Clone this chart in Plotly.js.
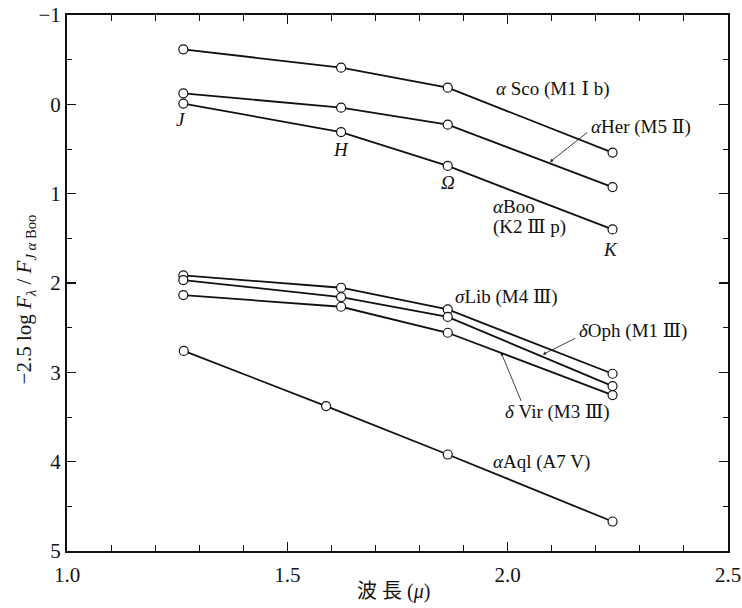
<!DOCTYPE html>
<html><head><meta charset="utf-8">
<script src="https://cdn.plot.ly/plotly-3.0.1.min.js"></script>
<style>html,body{margin:0;padding:0;background:#fff}</style>
</head><body>
<div id="chart" style="width:742px;height:608px"></div>
<script>
// wavelengths (micron) of the J, H, Omega, K bands
var bandX = [1.264, 1.622, 1.864, 2.238];
var aqlX  = [1.265, 1.588, 1.864, 2.238];
// -2.5 log F / F_J(alpha Boo)
var aSco = [-0.616, -0.41, -0.187, 0.54];
var aHer = [-0.123, 0.037, 0.228, 0.926];
var aBoo = [-0.008, 0.31, 0.69, 1.40];
var sLib = [1.915, 2.053, 2.296, 3.016];
var dOph = [1.967, 2.157, 2.38, 3.154];
var dVir = [2.135, 2.266, 2.557, 3.255];
var aAql = [2.76, 3.378, 3.92, 4.67];

var serif = 'Liberation Serif, DejaVu Serif, Noto Sans CJK JP, serif';
function tr(x, y){
  return {x:x, y:y, type:'scatter', mode:'lines+markers', showlegend:false,
    line:{color:'#111', width:1.8},
    marker:{symbol:'circle', size:9, color:'#fff', line:{color:'#111', width:1.2}}};
}
var data = [tr(bandX,aSco), tr(bandX,aHer), tr(bandX,aBoo), tr(bandX,sLib), tr(bandX,dOph), tr(bandX,dVir), tr(aqlX,aAql)];

function lab(x, y, t, anchor){
  return {x:x, y:y, xref:'x', yref:'y', text:t, showarrow:false, xanchor:anchor||'left', yanchor:'middle',
    font:{family:serif, size:19, color:'#111'}};
}
function arr(hx, hy, tx, ty){
  return {x:hx, y:hy, ax:tx, ay:ty, xref:'x', yref:'y', axref:'x', ayref:'y', text:'', showarrow:true,
    arrowhead:2, arrowsize:0.8, arrowwidth:0.8, arrowcolor:'#111', standoff:0, startstandoff:0};
}
var annotations = [
  lab(1.970, -0.168, '<i>α</i> Sco (M1 Ⅰ b)'),
  lab(2.184, 0.258, '<i>α</i>Her (M5 Ⅱ)'),
  lab(1.962, 1.142, '<i>α</i>Boo'),
  lab(1.962, 1.377, '(K2 Ⅲ p)'),
  lab(1.876, 2.161, '<i>σ</i>Lib (M4 Ⅲ)'),
  lab(2.157, 2.542, '<i>δ</i>Oph (M1 Ⅲ)'),
  lab(1.990, 3.449, '<i>δ</i> Vir (M3 Ⅲ)'),
  lab(1.962, 4.009, '<i>α</i>Aql (A7 V)'),
  lab(1.259, 0.168, '<i>J</i>', 'center'),
  lab(1.622, 0.504, '<i>H</i>', 'center'),
  lab(1.865, 0.873, '<i>Ω</i>', 'center'),
  lab(2.234, 1.624, '<i>K</i>', 'center'),
  arr(2.096, 0.645, 2.184, 0.302),
  arr(2.080, 2.80, 2.157, 2.61),
  arr(1.985, 2.777, 2.032, 3.337),
  {x:0.5, y:-0.076, xref:'paper', yref:'paper', text:'波 長 (<i>μ</i>)', showarrow:false,
   xanchor:'center', yanchor:'middle', font:{family:serif, size:20, color:'#111'}, xshift:-4},
  {x:-0.063, y:0.47, xref:'paper', yref:'paper', text:'−2.5 log <i>F</i><sub><i>λ</i></sub> / <i>F</i><sub><i>J α</i> Boo</sub>',
   showarrow:false, textangle:-90, xanchor:'center', yanchor:'middle', font:{family:serif, size:21, color:'#111'}}
];

var axCommon = {showgrid:false, zeroline:false, showline:true, linecolor:'#111', linewidth:2, mirror:'ticks',
  ticks:'inside', tickcolor:'#111', tickwidth:1.2, ticklen:9,
  tickfont:{family:serif, size:21, color:'#111'}};
var layout = {
  width:742, height:608, margin:{l:67, r:14, t:15, b:57},
  paper_bgcolor:'#fff', plot_bgcolor:'#fff',
  xaxis: Object.assign({}, axCommon, {range:[1.0, 2.5], dtick:0.5, tick0:1.0, tickformat:'.1f',
    ticklabelstandoff:4,
    minor:{dtick:0.1, ticks:'inside', ticklen:6, tickcolor:'#111', tickwidth:1}}),
  yaxis: Object.assign({}, axCommon, {range:[5, -1], dtick:1, tick0:0,
    minor:{dtick:0.5, ticks:'inside', ticklen:5, tickcolor:'#111', tickwidth:1}}),
  annotations: annotations
};
Plotly.newPlot('chart', data, layout, {staticPlot:true});
</script>
</body></html>
